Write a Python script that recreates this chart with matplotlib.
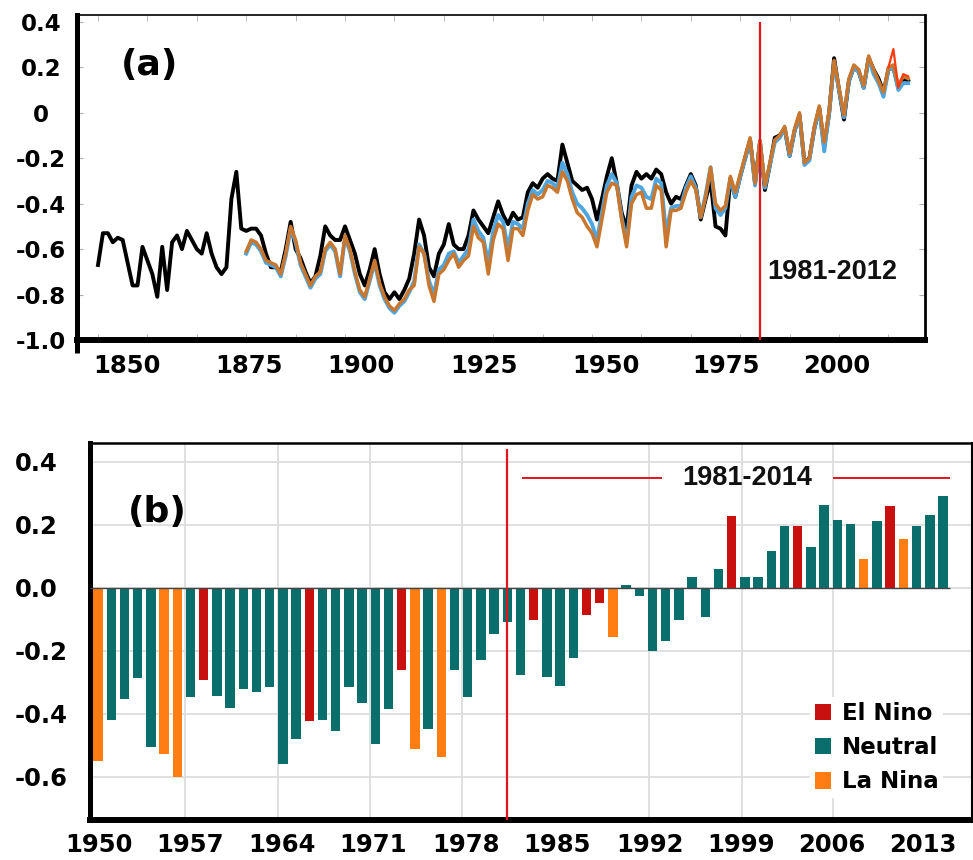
import numpy as np
import matplotlib
matplotlib.use('Agg')
import matplotlib.pyplot as plt
from matplotlib.patches import Patch

plt.rcParams['font.family'] = ['DejaVu Sans']
plt.rcParams['font.weight'] = 'bold'

# ---- panel (a): annual global temperature anomalies ----
black_years = np.arange(1850, 2015)
black_vals = [
    -0.67, -0.53, -0.53, -0.57, -0.55, -0.56, -0.66, -0.76, -0.76, -0.59,
    -0.65, -0.71, -0.81, -0.59, -0.78, -0.57, -0.54, -0.60, -0.52, -0.56,
    -0.60, -0.62, -0.53, -0.62, -0.68, -0.71, -0.68, -0.38, -0.26, -0.51,
    -0.52, -0.51, -0.51, -0.54, -0.62, -0.68, -0.68, -0.70, -0.60, -0.48,
    -0.60, -0.64, -0.70, -0.75, -0.72, -0.63, -0.50, -0.54, -0.56, -0.56,
    -0.50, -0.56, -0.62, -0.71, -0.76, -0.69, -0.60, -0.71, -0.79, -0.82,
    -0.79, -0.82, -0.78, -0.73, -0.62, -0.47, -0.54, -0.68, -0.72, -0.62,
    -0.58, -0.49, -0.58, -0.60, -0.60, -0.54, -0.43, -0.47, -0.50, -0.53,
    -0.46, -0.39, -0.45, -0.49, -0.44, -0.47, -0.46, -0.35, -0.31, -0.33,
    -0.29, -0.27, -0.29, -0.30, -0.14, -0.22, -0.30, -0.32, -0.34, -0.33,
    -0.38, -0.47, -0.38, -0.28, -0.20, -0.31, -0.44, -0.51, -0.32, -0.26,
    -0.29, -0.27, -0.29, -0.25, -0.27, -0.35, -0.40, -0.37, -0.38, -0.32,
    -0.27, -0.32, -0.47, -0.38, -0.30, -0.50, -0.51, -0.54, -0.29, -0.37,
    -0.28, -0.20, -0.12, -0.31, -0.13, -0.34, -0.23, -0.11, -0.10, -0.07,
    -0.19, -0.08, -0.01, -0.22, -0.20, -0.07, 0.02, -0.15, 0.00, 0.24,
    0.10, -0.03, 0.14, 0.20, 0.18, 0.11, 0.24, 0.19, 0.15, 0.09,
    0.19, 0.20, 0.11, 0.15, 0.14,
]

other_years = np.arange(1880, 2015)
blue_vals = [
    -0.62, -0.57, -0.58, -0.61, -0.66, -0.67, -0.68, -0.72, -0.63, -0.51,
    -0.57, -0.67, -0.72, -0.77, -0.73, -0.71, -0.61, -0.58, -0.61, -0.72,
    -0.55, -0.61, -0.71, -0.79, -0.82, -0.74, -0.66, -0.76, -0.82, -0.86,
    -0.88, -0.85, -0.83, -0.79, -0.74, -0.58, -0.62, -0.74, -0.80, -0.69,
    -0.67, -0.62, -0.61, -0.66, -0.63, -0.60, -0.47, -0.52, -0.55, -0.66,
    -0.52, -0.45, -0.48, -0.60, -0.48, -0.49, -0.51, -0.40, -0.34, -0.36,
    -0.34, -0.30, -0.31, -0.33, -0.22, -0.27, -0.35, -0.40, -0.42, -0.45,
    -0.49, -0.56, -0.44, -0.32, -0.27, -0.31, -0.46, -0.57, -0.37, -0.32,
    -0.33, -0.37, -0.38, -0.29, -0.31, -0.53, -0.42, -0.41, -0.41, -0.33,
    -0.28, -0.33, -0.46, -0.36, -0.24, -0.42, -0.45, -0.42, -0.29, -0.37,
    -0.28, -0.20, -0.12, -0.32, -0.13, -0.33, -0.23, -0.13, -0.11, -0.07,
    -0.19, -0.08, -0.01, -0.23, -0.21, -0.07, 0.02, -0.17, 0.00, 0.22,
    0.10, -0.02, 0.14, 0.20, 0.18, 0.11, 0.24, 0.17, 0.13, 0.07,
    0.19, 0.20, 0.10, 0.13, 0.13,
]
orange_vals = [
    -0.61, -0.56, -0.57, -0.60, -0.65, -0.66, -0.67, -0.71, -0.62, -0.50,
    -0.56, -0.66, -0.71, -0.76, -0.72, -0.70, -0.60, -0.57, -0.60, -0.71,
    -0.54, -0.60, -0.70, -0.78, -0.81, -0.73, -0.65, -0.75, -0.81, -0.85,
    -0.87, -0.84, -0.82, -0.78, -0.76, -0.59, -0.62, -0.76, -0.83, -0.71,
    -0.69, -0.65, -0.62, -0.68, -0.65, -0.63, -0.50, -0.55, -0.57, -0.71,
    -0.56, -0.49, -0.51, -0.65, -0.51, -0.51, -0.54, -0.43, -0.36, -0.38,
    -0.37, -0.32, -0.33, -0.35, -0.26, -0.30, -0.38, -0.44, -0.46, -0.50,
    -0.53, -0.59, -0.47, -0.35, -0.31, -0.32, -0.47, -0.59, -0.40, -0.36,
    -0.35, -0.42, -0.42, -0.32, -0.34, -0.59, -0.43, -0.43, -0.42, -0.35,
    -0.30, -0.34, -0.46, -0.37, -0.24, -0.40, -0.43, -0.41, -0.28, -0.35,
    -0.27, -0.19, -0.11, -0.31, -0.12, -0.32, -0.22, -0.12, -0.10, -0.06,
    -0.18, -0.07, 0.00, -0.22, -0.20, -0.06, 0.03, -0.13, 0.01, 0.23,
    0.11, -0.01, 0.15, 0.21, 0.19, 0.12, 0.25, 0.19, 0.14, 0.09,
    0.20, 0.21, 0.12, 0.16, 0.15,
]
red_years = np.arange(2010, 2015)
red_vals = [0.20, 0.28, 0.11, 0.17, 0.16]

a_yticks = [0.4, 0.2, 0.0, -0.2, -0.4, -0.6, -0.8, -1.0]
a_ytick_labels = ['0.4', '0.2', '0', '-0.2', '-0.4', '-0.6', '-0.8', '-1.0']
a_xtick_labels = ['1850', '1875', '1900', '1925', '1950', '1975', '2000']
a_xtick_pos = [1855.9, 1880.6, 1903.2, 1928.1, 1952.8, 1977.1, 1999.6]

# ---- panel (b): annual anomalies by ENSO phase ----
b_years = np.arange(1950, 2015)
b_vals = [
    -0.551, -0.419, -0.353, -0.287, -0.506, -0.527, -0.599, -0.348, -0.294, -0.342,
    -0.382, -0.322, -0.332, -0.316, -0.560, -0.480, -0.424, -0.419, -0.453, -0.316,
    -0.364, -0.495, -0.385, -0.260, -0.511, -0.448, -0.538, -0.260, -0.348, -0.229,
    -0.147, -0.107, -0.276, -0.102, -0.284, -0.310, -0.223, -0.086, -0.049, -0.157,
    0.010, -0.025, -0.200, -0.168, -0.102, 0.033, -0.091, 0.059, 0.229, 0.036,
    0.036, 0.118, 0.198, 0.195, 0.131, 0.263, 0.216, 0.203, 0.091, 0.211,
    0.260, 0.156, 0.195, 0.232, 0.292,
]
b_phase = list('LNNNNLLNEN' 'NNNNNNENNN' 'NNNELNLNNN' 'NNNENNNEEL'
               'NNNNNNNNEN' 'NNNENNNNLN' 'ELNNN')
phase_names = {'E': 'El Nino', 'N': 'Neutral', 'L': 'La Nina'}
phase_colors = {'E': '#c8100f', 'N': '#0a6f6c', 'L': '#ff7d12'}

b_yticks = [0.4, 0.2, 0.0, -0.2, -0.4, -0.6]
b_ytick_labels = ['0.4', '0.2', '0.0', '-0.2', '-0.4', '-0.6']
b_xtick_labels = ['1950', '1957', '1964', '1971', '1978', '1985', '1992', '1999', '2006', '2013']
b_xtick_pos = [1950.1, 1957.0, 1963.9, 1970.8, 1977.9, 1984.8, 1991.8, 1998.7, 2005.6, 2012.5]
b_grid_pos = [1956.6, 1963.6, 1970.6, 1977.6, 1984.8, 1991.7, 1998.8, 2005.7]

RED = '#e3141b'
W, H = 973, 860

fig = plt.figure(figsize=(W / 100, H / 100), dpi=100)

# ================= (a) =================
ax1 = fig.add_axes([77 / W, 1 - 340 / H, 848 / W, 325 / H])
ax1.plot(black_years, black_vals, color='black', lw=2.8, zorder=2)
ax1.plot(other_years, blue_vals, color='#4da6e0', lw=2.8, zorder=3)
ax1.plot(other_years, orange_vals, color='#c9772f', lw=2.5, zorder=4)
ax1.plot(red_years, red_vals, color='#ff3b10', lw=1.6, zorder=5)
ax1.vlines(1983.9, -1.0, 0.40, color=RED, lw=1.6, zorder=6)

ax1.set_xlim(1845.75, 2017.4)
ax1.set_ylim(-1.0, 0.43)
ax1.set_yticks(a_yticks, a_ytick_labels)
ax1.set_xticks(a_xtick_pos, a_xtick_labels)
ax1.set_xticks(np.arange(1850, 2020, 10), minor=True)
ax1.tick_params(axis='y', direction='in', length=4, color='#b0b0b0',
                left=True, right=True, labelsize=16.5, pad=26)
for lab in ax1.get_yticklabels():
    lab.set_horizontalalignment('center')
ax1.tick_params(axis='x', which='major', length=0, labelsize=17.5, pad=10)
ax1.tick_params(axis='x', which='minor', direction='in', length=4,
                color='#b0b0b0', top=True, bottom=True)

ax1.spines['left'].set_linewidth(3.6)
ax1.spines['bottom'].set_linewidth(4.3)
ax1.spines['top'].set_linewidth(1.2)
ax1.spines['right'].set_linewidth(2.0)
ax1.plot([0, 0], [-0.04, 0], transform=ax1.transAxes, color='black',
         lw=3.6, clip_on=False, solid_capstyle='butt')

ax1.text(1860.5, 0.21, '(a)', fontsize=26, ha='center', va='center')
ax1.text(1998.6, -0.70, '1981-2012', fontsize=19.5, ha='center', va='center',
         family='Liberation Sans', color='#111111')

# ================= (b) =================
ax2 = fig.add_axes([90 / W, 1 - 820 / H, 882 / W, 377 / H])
bar_colors = [phase_colors[p] for p in b_phase]
ax2.bar(b_years, b_vals, width=0.72, color=bar_colors, zorder=3)
ax2.hlines(0, 1949.4, 2014.5, color='#444444', lw=1.0, zorder=4)

ax2.set_xlim(1949.39, 2016.2)
ax2.set_ylim(-0.737, 0.46)
ax2.set_yticks(b_yticks, b_ytick_labels)
ax2.set_xticks(b_xtick_pos, b_xtick_labels)
ax2.set_xticks(b_grid_pos, minor=True)
ax2.grid(axis='y', which='major', color='#dddddd', lw=1.3, zorder=0)
ax2.grid(axis='x', which='minor', color='#dddddd', lw=1.3, zorder=0)
ax2.tick_params(axis='y', length=0, labelsize=17.5, pad=54)
for lab in ax2.get_yticklabels():
    lab.set_horizontalalignment('left')
ax2.tick_params(axis='x', which='both', length=0, labelsize=17.5, pad=9.5)

ax2.spines['left'].set_linewidth(3.6)
ax2.spines['bottom'].set_linewidth(4.3)
ax2.spines['top'].set_linewidth(1.8)
ax2.spines['right'].set_linewidth(1.5)

ax2.axvline(1981.0, ymin=0, ymax=(0.438 + 0.737) / 1.197, color=RED, lw=1.6, zorder=5)
ax2.hlines([0.349, 0.349], [1982.1, 2005.7], [1992.7, 2014.5], color=RED, lw=1.4, zorder=5)
ax2.text(1999.2, 0.349, '1981-2014', fontsize=19.5, ha='center', va='center',
         family='Liberation Sans', color='#111111', zorder=6)
ax2.text(1954.5, 0.241, '(b)', fontsize=26, ha='center', va='center')

handles = [Patch(facecolor=phase_colors[k], label=phase_names[k]) for k in 'ENL']
leg = ax2.legend(handles=handles, loc='upper left',
                 bbox_to_anchor=(810 / W, 1 - 697 / H), bbox_transform=fig.transFigure,
                 frameon=True, facecolor='white', edgecolor='none', framealpha=1,
                 prop={'weight': 'bold', 'size': 16.5}, handlelength=0.7,
                 handleheight=0.7, handletextpad=0.5, labelspacing=0.5,
                 borderpad=0.2, borderaxespad=0, fancybox=False)
leg.set_zorder(7)

fig.savefig('out.png', dpi=100)
